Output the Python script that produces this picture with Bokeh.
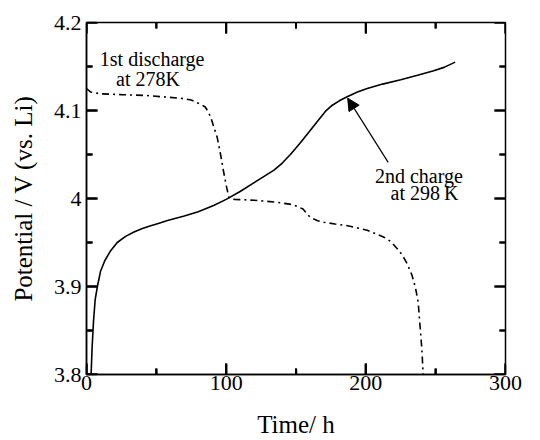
from bokeh.plotting import figure
from bokeh.models import LinearAxis, Range1d, FixedTicker, Arrow, NormalHead, Label, ColumnDataSource
from bokeh.embed import file_html
from bokeh.resources import INLINE

# 2nd charge at 298 K (solid)
charge_t = [3.3, 4.0, 5.0, 6.2, 7.8, 10, 13, 17, 22, 28, 34, 40, 46, 52, 58, 70, 80, 91, 100, 110, 120, 128, 134, 140, 146, 153, 160, 166, 171, 176, 181, 187, 194, 201, 212, 225, 237, 248, 256, 264]
charge_v = [3.80, 3.83, 3.86, 3.885, 3.90, 3.917, 3.929, 3.940, 3.950, 3.957, 3.962, 3.966, 3.969, 3.972, 3.975, 3.980, 3.985, 3.992, 3.999, 4.008, 4.018, 4.026, 4.032, 4.040, 4.050, 4.063, 4.077, 4.089, 4.099, 4.106, 4.111, 4.116, 4.121, 4.125, 4.130, 4.135, 4.140, 4.145, 4.149, 4.155]

# 1st discharge at 278 K (dashed)
dis_t = [0, 3, 10, 25, 43, 67, 75, 79, 83, 85, 87, 89, 91, 93.5, 96, 98, 100, 102, 106, 120, 135, 148, 155, 160, 165, 170, 178, 187, 201, 213, 218, 222.5, 226, 229.6, 233, 235.5, 237.5, 238.5, 239.5, 240.3, 241]
dis_v = [4.125, 4.121, 4.119, 4.118, 4.117, 4.114, 4.112, 4.109, 4.106, 4.104, 4.099, 4.092, 4.082, 4.07, 4.05, 4.032, 4.015, 4.001, 3.999, 3.998, 3.996, 3.993, 3.988, 3.979, 3.975, 3.973, 3.971, 3.969, 3.964, 3.956, 3.951, 3.943, 3.936, 3.926, 3.913, 3.899, 3.882, 3.861, 3.842, 3.824, 3.80]

x_ticks = [0, 100, 200, 300]
x_minor = [50, 150, 250]
y_ticks = [3.8, 3.9, 4.0, 4.1, 4.2]
y_minor = [3.85, 3.95, 4.05, 4.15]
y_labels = {3.8: "3.8", 3.9: "3.9", 4.0: "4", 4.1: "4.1", 4.2: "4.2"}

X_MIN, X_MAX = 0, 300
Y_MIN, Y_MAX = 3.8, 4.2
W, H = 540, 440
BL, BR, BT, BB = 86, 35, 22, 66
FONT = "Liberation Serif"

p = figure(width=W, height=H, output_backend="svg", toolbar_location=None,
           x_range=Range1d(X_MIN, X_MAX), y_range=Range1d(Y_MIN, Y_MAX),
           x_axis_location=None, y_axis_location=None)
p.min_border_left = BL
p.min_border_right = BR
p.min_border_top = BT
p.min_border_bottom = BB
p.xgrid.visible = False
p.ygrid.visible = False
p.outline_line_color = "black"
p.outline_line_width = 1.5
p.background_fill_color = "white"
p.border_fill_color = "white"


def style_axis(ax):
    ax.axis_line_color = "black"
    ax.axis_line_width = 1.5
    ax.major_tick_in = 10
    ax.major_tick_out = 0
    ax.minor_tick_in = 5
    ax.minor_tick_out = 0
    ax.major_tick_line_color = "black"
    ax.minor_tick_line_color = "black"
    ax.major_tick_line_width = 1.5
    ax.minor_tick_line_width = 1.5
    ax.major_label_text_font = FONT
    ax.major_label_text_font_size = "22px"
    ax.major_label_text_color = "black"
    ax.axis_label_text_font = FONT
    ax.axis_label_text_font_size = "25px"
    ax.axis_label_text_font_style = "normal"
    ax.axis_label_text_color = "black"


xb = LinearAxis(ticker=FixedTicker(ticks=x_ticks, minor_ticks=x_minor), axis_label="Time/ h")
style_axis(xb)
xb.major_label_standoff = 1
xb.axis_label_standoff = 18
p.add_layout(xb, "below")

yl = LinearAxis(ticker=FixedTicker(ticks=y_ticks, minor_ticks=y_minor),
                axis_label="Potential / V (vs. Li)")
style_axis(yl)
yl.major_label_overrides = y_labels
yl.major_label_standoff = 5
yl.axis_label_standoff = 14
p.add_layout(yl, "left")

# inward tick marks on all four sides; pixel lengths converted to data units
dx_per_px = (X_MAX - X_MIN) / (W - BL - BR)
dy_per_px = (Y_MAX - Y_MIN) / (H - BT - BB)
x0s, y0s, x1s, y1s = [], [], [], []
for ticks, ln in [(x_ticks, 11), (x_minor, 6)]:
    for t in ticks:
        x0s += [t, t]
        x1s += [t, t]
        y0s += [Y_MIN, Y_MAX]
        y1s += [Y_MIN + ln * dy_per_px, Y_MAX - ln * dy_per_px]
for ticks, ln in [(y_ticks, 11), (y_minor, 6)]:
    for t in ticks:
        y0s += [t, t]
        y1s += [t, t]
        x0s += [X_MIN, X_MAX]
        x1s += [X_MIN + ln * dx_per_px, X_MAX - ln * dx_per_px]
tick_src = ColumnDataSource(dict(x0=x0s, y0=y0s, x1=x1s, y1=y1s))
p.segment(x0="x0", y0="y0", x1="x1", y1="y1", source=tick_src,
          line_color="black", line_width=2)
# same ticks as a multi_line, in case segments are not painted
p.multi_line(xs=[[a, b] for a, b in zip(x0s, x1s)], ys=[[a, b] for a, b in zip(y0s, y1s)],
             line_color="black", line_width=2)

p.line(charge_t, charge_v, line_color="black", line_width=1.6)
p.line(dis_t, dis_v, line_color="black", line_width=1.6, line_dash="7 4 2 4")

p.add_layout(Arrow(end=NormalHead(size=12, fill_color="black", line_color="black"),
                   x_start=216, y_start=4.041, x_end=187, y_end=4.114,
                   line_color="black", line_width=1.2))

for txt, x, y in [("1st discharge", 47, 4.159), ("at 278K", 44, 4.136),
                  ("2nd charge", 238, 4.026), ("at 298\u2009K", 242, 4.006)]:
    p.add_layout(Label(x=x, y=y, text=txt, text_font=FONT, text_font_size="20px",
                       text_align="center", text_baseline="middle", text_color="black"))

open("out.html", "w").write(file_html(p, INLINE))
